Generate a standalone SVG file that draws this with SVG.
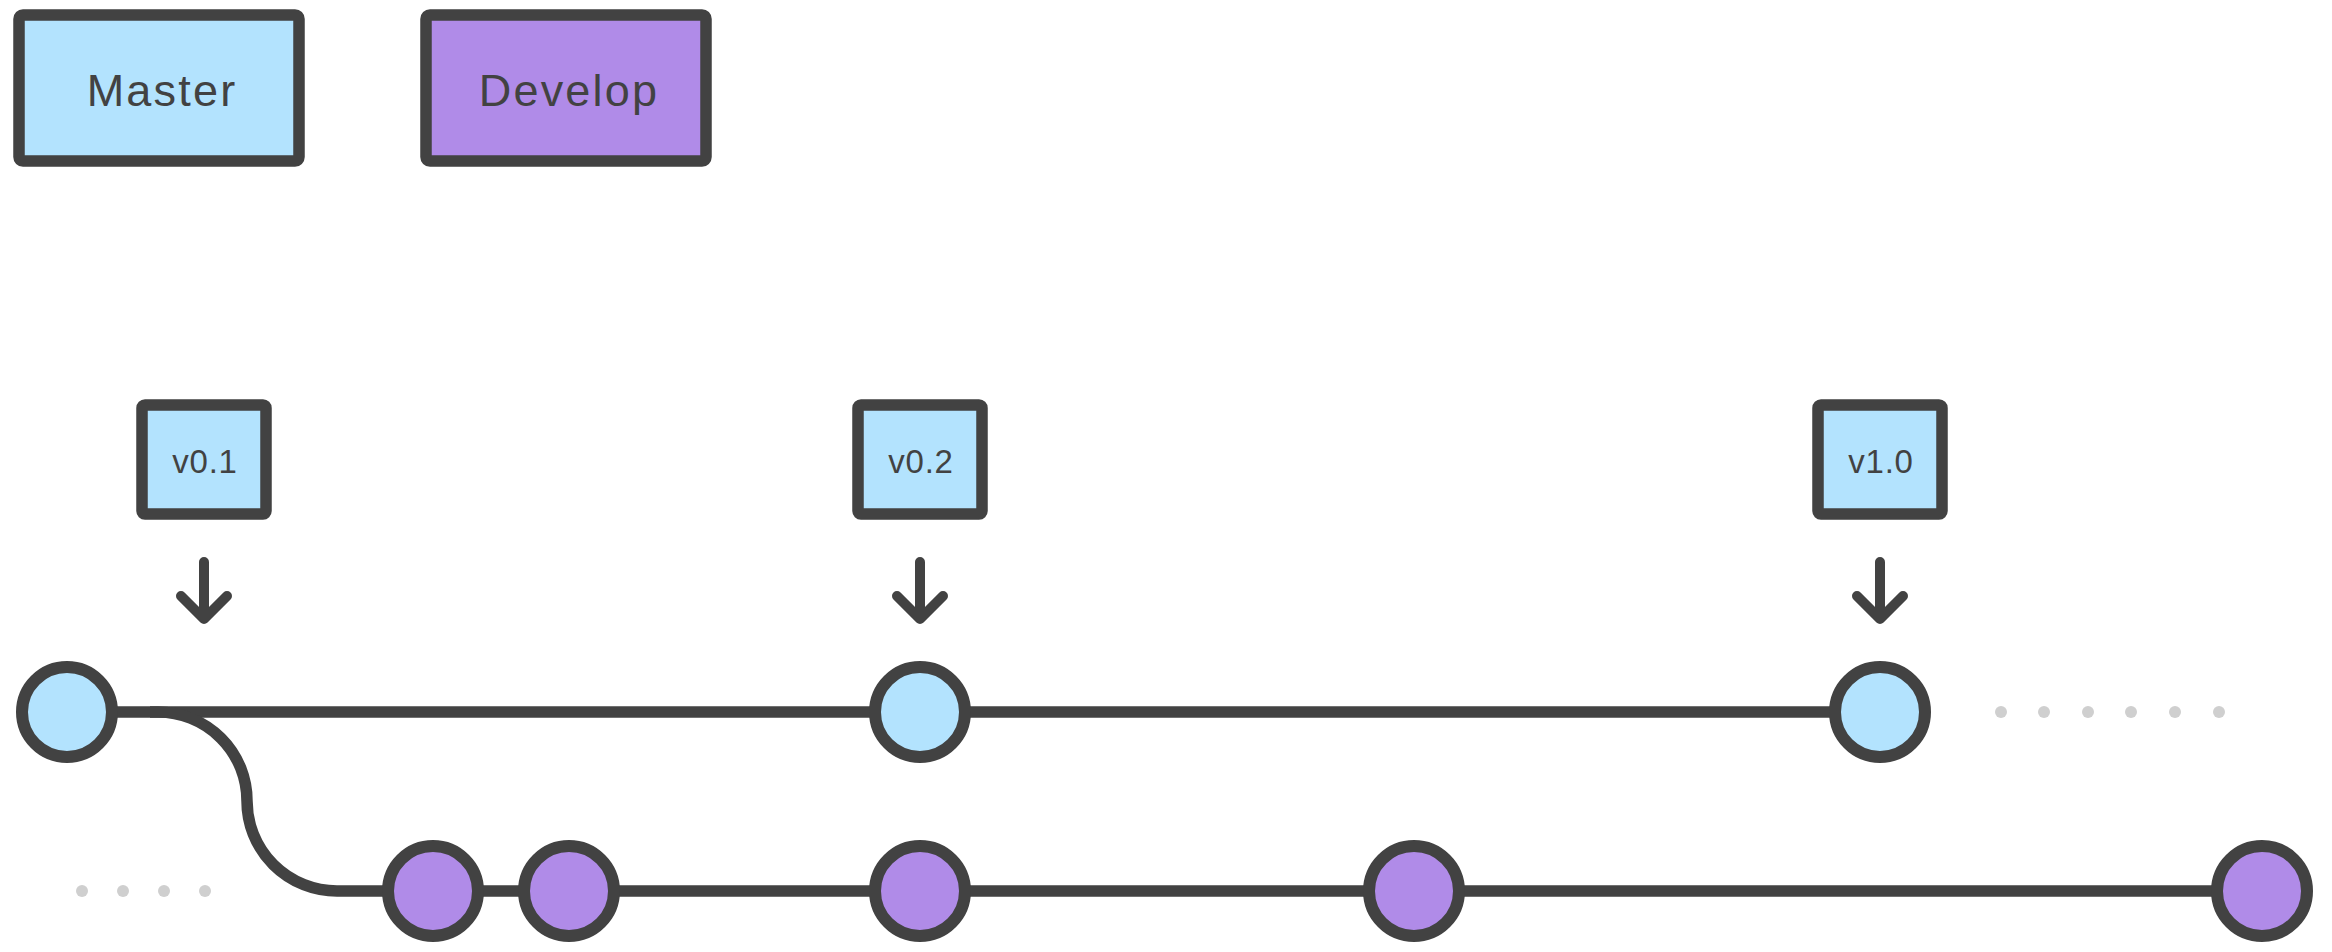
<svg xmlns="http://www.w3.org/2000/svg" width="2332" height="952" viewBox="0 0 2332 952">
<style>
.box{stroke:#424242;stroke-width:11.5;stroke-linejoin:round}
.m{fill:#b3e3fe}
.d{fill:#b08be8}
.lbl{font-family:"Liberation Sans",Arial,sans-serif;fill:#424242;text-anchor:middle}
.big{font-size:45px;letter-spacing:2.2px}
.tag{font-size:33px;letter-spacing:0.8px}
.line{fill:none;stroke:#424242;stroke-width:11.5}
.arrow{fill:none;stroke:#424242;stroke-width:10;stroke-linecap:round;stroke-linejoin:round}
.commit{stroke:#424242;stroke-width:12}
.dot{fill:#cfcfcf}
</style>
<rect width="2332" height="952" fill="#ffffff"/>
<g id="legend-master"><rect class="box m" x="19" y="15" width="280" height="146" rx="4"/><text class="lbl big" x="162" y="106">Master</text></g>
<g id="legend-develop"><rect class="box d" x="426" y="15" width="280" height="146" rx="4"/><text class="lbl big" x="569" y="106">Develop</text></g>
<g id="connectors">
<line class="line" x1="67" y1="712" x2="1880" y2="712"/>
<path class="line" d="M 150 712 H 158 A 89 89 0 0 1 247 801 A 90 90 0 0 0 337 891 H 2262"/>
</g>
<g id="tag-v01"><rect class="box m" x="142" y="405" width="124" height="109" rx="3"/><text class="lbl tag" x="205" y="473">v0.1</text><path class="arrow" d="M204 562 V619 M181 596 L204 619 L227 596"/></g>
<g id="tag-v02"><rect class="box m" x="858" y="405" width="124" height="109" rx="3"/><text class="lbl tag" x="921" y="473">v0.2</text><path class="arrow" d="M920 562 V619 M897 596 L920 619 L943 596"/></g>
<g id="tag-v10"><rect class="box m" x="1818" y="405" width="124" height="109" rx="3"/><text class="lbl tag" x="1881" y="473">v1.0</text><path class="arrow" d="M1880 562 V619 M1857 596 L1880 619 L1903 596"/></g>
<g id="master-c1"><circle class="commit m" cx="67" cy="712" r="45"/></g>
<g id="master-c2"><circle class="commit m" cx="920" cy="712" r="45"/></g>
<g id="master-c3"><circle class="commit m" cx="1880" cy="712" r="45"/></g>
<g id="develop-c1"><circle class="commit d" cx="433" cy="891" r="45"/></g>
<g id="develop-c2"><circle class="commit d" cx="569" cy="891" r="45"/></g>
<g id="develop-c3"><circle class="commit d" cx="920" cy="891" r="45"/></g>
<g id="develop-c4"><circle class="commit d" cx="1414" cy="891" r="45"/></g>
<g id="develop-c5"><circle class="commit d" cx="2262" cy="891" r="45"/></g>
<g id="dots-develop"><circle class="dot" cx="82" cy="891" r="6"/><circle class="dot" cx="123" cy="891" r="6"/><circle class="dot" cx="164" cy="891" r="6"/><circle class="dot" cx="205" cy="891" r="6"/></g>
<g id="dots-master"><circle class="dot" cx="2001" cy="712" r="6"/><circle class="dot" cx="2044" cy="712" r="6"/><circle class="dot" cx="2088" cy="712" r="6"/><circle class="dot" cx="2131" cy="712" r="6"/><circle class="dot" cx="2175" cy="712" r="6"/><circle class="dot" cx="2219" cy="712" r="6"/></g>
</svg>
